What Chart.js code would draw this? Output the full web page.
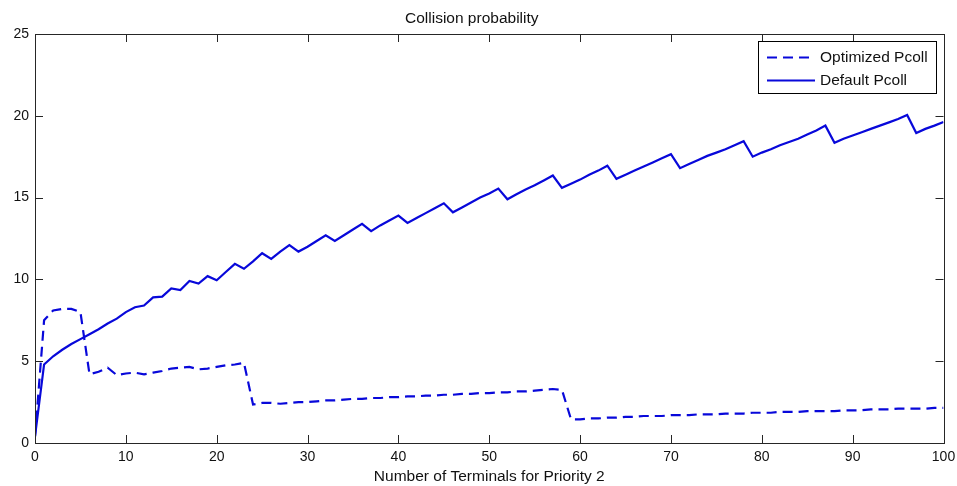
<!DOCTYPE html>
<html>
<head>
<meta charset="utf-8">
<title>Collision probability</title>
<script src="https://cdn.jsdelivr.net/npm/chart.js@4/dist/chart.umd.min.js"></script>
<style>
    html, body { margin: 0; padding: 0; background: #fff; }
    #wrap { width: 957px; height: 486px; }
</style>
</head>
<body>
<div id="wrap"><canvas id="pcollChart" width="957" height="486"></canvas></div>
<script>
// number of terminals for priority 2
const terminals = [
    0, 1, 2, 3, 4, 5, 6, 7, 8, 9, 10, 11, 12, 13, 14, 15, 16, 17, 18, 19,
    20, 21, 22, 23, 24, 25, 26, 27, 28, 29, 30, 31, 32, 33, 34, 35, 36, 37, 38, 39,
    40, 41, 42, 43, 44, 45, 46, 47, 48, 49, 50, 51, 52, 53, 54, 55, 56, 57, 58, 59,
    60, 61, 62, 63, 64, 65, 66, 67, 68, 69, 70, 71, 72, 73, 74, 75, 76, 77, 78, 79,
    80, 81, 82, 83, 84, 85, 86, 87, 88, 89, 90, 91, 92, 93, 94, 95, 96, 97, 98, 99, 100
];

const optimizedPcoll = [
    0.4, 7.5, 8.1, 8.2, 8.2, 8.0, 4.2, 4.35, 4.6, 4.15, 4.25, 4.3, 4.2, 4.3, 4.4, 4.55, 4.6, 4.65, 4.5, 4.55,
    4.65, 4.75, 4.8, 4.9, 2.35, 2.45, 2.45, 2.4, 2.45, 2.5, 2.5, 2.55, 2.6, 2.6, 2.65, 2.7, 2.7, 2.75, 2.75, 2.8,
    2.8, 2.85, 2.85, 2.9, 2.9, 2.95, 2.95, 3.0, 3.0, 3.05, 3.05, 3.1, 3.1, 3.15, 3.15, 3.2, 3.25, 3.3, 3.25, 1.45,
    1.45, 1.5, 1.5, 1.55, 1.55, 1.6, 1.6, 1.65, 1.65, 1.65, 1.7, 1.7, 1.7, 1.75, 1.75, 1.75, 1.8, 1.8, 1.8, 1.85,
    1.85, 1.85, 1.9, 1.9, 1.9, 1.95, 1.95, 1.95, 1.95, 2.0, 2.0, 2.0, 2.05, 2.05, 2.05, 2.1, 2.1, 2.1, 2.1, 2.15, 2.15
];

const defaultPcoll = [
    0.4, 4.8, 5.3, 5.7, 6.05, 6.35, 6.65, 6.95, 7.3, 7.6, 8.0, 8.3, 8.4, 8.9, 8.95, 9.45, 9.35, 9.9, 9.75, 10.2,
    9.95, 10.45, 10.95, 10.65, 11.1, 11.6, 11.25, 11.7, 12.1, 11.7, 12.0, 12.35, 12.7, 12.35, 12.7, 13.05, 13.4, 12.95, 13.3, 13.6,
    13.9, 13.45, 13.75, 14.05, 14.35, 14.65, 14.1, 14.4, 14.7, 15.0, 15.25, 15.55, 14.9, 15.2, 15.5, 15.75, 16.05, 16.35, 15.6, 15.85,
    16.1, 16.4, 16.65, 16.95, 16.15, 16.4, 16.65, 16.9, 17.15, 17.4, 17.65, 16.8, 17.05, 17.3, 17.55, 17.75, 17.95, 18.2, 18.45, 17.5,
    17.75, 17.95, 18.2, 18.4, 18.6, 18.85, 19.1, 19.4, 18.35, 18.6, 18.8, 19.0, 19.2, 19.4, 19.6, 19.8, 20.05, 18.95, 19.2, 19.4, 19.62
];

const xTicks = [0, 10, 20, 30, 40, 50, 60, 70, 80, 90, 100];
const yTicks = [0, 5, 10, 15, 20, 25];

const lineBlue = 'rgb(8, 8, 218)';
const axisInk = '#262626';
const fontFamily = '"Liberation Sans", Arial, Helvetica, sans-serif';

// matlab style box with inward ticks + legend in the upper right
const matlabFrame = {
    id: 'matlabFrame',
    afterDatasetsDraw(chart) {
        const ctx = chart.ctx;
        const area = chart.chartArea;
        const xs = chart.scales.x;
        const ys = chart.scales.y;
        const tl = 8;

        ctx.save();
        ctx.strokeStyle = axisInk;
        ctx.lineWidth = 1;
        ctx.strokeRect(Math.round(area.left) + 0.5, Math.round(area.top) + 0.5,
            Math.round(area.right - area.left), Math.round(area.bottom - area.top));

        ctx.beginPath();
        xTicks.forEach(function(v){
            let px = Math.round(xs.getPixelForValue(v)) + 0.5;
            ctx.moveTo(px, area.bottom);
            ctx.lineTo(px, area.bottom - tl);
            ctx.moveTo(px, area.top);
            ctx.lineTo(px, area.top + tl);
        });
        yTicks.forEach(function(v){
            let py = Math.round(ys.getPixelForValue(v)) + 0.5;
            ctx.moveTo(area.left, py);
            ctx.lineTo(area.left + tl, py);
            ctx.moveTo(area.right, py);
            ctx.lineTo(area.right - tl, py);
        });
        ctx.stroke();

        // legend box
        const boxL = 758, boxT = 41, boxR = 936, boxB = 93;
        ctx.fillStyle = '#fff';
        ctx.fillRect(boxL, boxT, boxR - boxL, boxB - boxT);
        ctx.strokeStyle = '#000';
        ctx.strokeRect(boxL + 0.5, boxT + 0.5, boxR - boxL, boxB - boxT);

        ctx.font = '15.5px ' + fontFamily;
        ctx.textBaseline = 'middle';
        ctx.textAlign = 'left';
        chart.data.datasets.forEach(function(ds, i){
            let rowY = i === 0 ? 57.5 : 80.5;
            ctx.beginPath();
            ctx.strokeStyle = ds.borderColor;
            ctx.lineWidth = ds.borderWidth;
            ctx.setLineDash(ds.borderDash || []);
            ctx.moveTo(767, rowY);
            ctx.lineTo(815, rowY);
            ctx.stroke();
            ctx.setLineDash([]);
            ctx.fillStyle = '#111';
            ctx.fillText(ds.label, 820, rowY);
        });
        ctx.restore();
    }
};

(function(){
    let ctx = document.getElementById('pcollChart').getContext('2d');
    let pcollChart = new Chart(ctx, {
        type: 'line',
        data: {
            datasets: [{
                label: 'Optimized Pcoll',
                data: terminals.map(function(t, i){ return {x: t, y: optimizedPcoll[i]}; }),
                borderColor: lineBlue,
                borderWidth: 2.2,
                borderDash: [10, 6],
                pointRadius: 0,
                fill: false,
                tension: 0
            }, {
                label: 'Default Pcoll',
                data: terminals.map(function(t, i){ return {x: t, y: defaultPcoll[i]}; }),
                borderColor: lineBlue,
                borderWidth: 2.2,
                pointRadius: 0,
                fill: false,
                tension: 0
            }]
        },
        options: {
            responsive: false,
            animation: false,
            devicePixelRatio: 1,
            layout: {
                padding: { left: 0, right: 13.5, top: 0, bottom: 0 }
            },
            plugins: {
                legend: { display: false },
                tooltip: { enabled: false },
                title: {
                    display: true,
                    text: 'Collision probability',
                    color: '#111',
                    padding: { top: 9.2, bottom: 6.2 },
                    font: { family: fontFamily, size: 15.5, weight: 'normal', lineHeight: 1.2 }
                }
            },
            scales: {
                x: {
                    type: 'linear',
                    min: 0,
                    max: 100,
                    border: { display: false },
                    grid: { display: false, drawTicks: false },
                    ticks: {
                        stepSize: 10,
                        color: '#111',
                        padding: 6,
                        maxRotation: 0,
                        font: { family: fontFamily, size: 14 }
                    },
                    title: {
                        display: true,
                        text: 'Number of Terminals for Priority 2',
                        color: '#111',
                        padding: { top: 0, bottom: 0 },
                        font: { family: fontFamily, size: 15.5, lineHeight: 1.2 }
                    },
                    afterFit(scale) {
                        scale.height = 43;
                        scale.paddingLeft = 0;
                        scale.paddingRight = 0;
                    }
                },
                y: {
                    min: 0,
                    max: 25,
                    border: { display: false },
                    grid: { display: false, drawTicks: false },
                    ticks: {
                        stepSize: 5,
                        color: '#111',
                        padding: 6,
                        font: { family: fontFamily, size: 14 }
                    },
                    afterFit(scale) {
                        scale.width = 35;
                    }
                }
            }
        },
        plugins: [matlabFrame]
    });
})();
</script>
</body>
</html>
